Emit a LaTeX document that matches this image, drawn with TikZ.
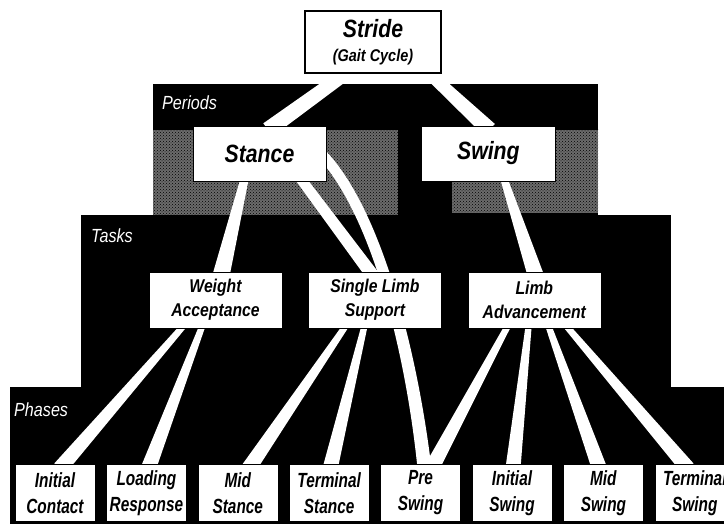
\documentclass[tikz,border=0pt]{standalone}
\usepackage{fontspec}
\newfontfamily\gaitfont[FakeStretch=0.85]{Liberation Sans}
\newfontfamily\phasefont[FakeStretch=0.75]{Liberation Sans}
\usepackage{tikz}
\usetikzlibrary{calc,positioning,patterns}
\pgfdeclarelayer{regions}
\pgfdeclarelayer{bands}
\pgfsetlayers{regions,bands,main}

% tapered white link: parent, x shift on its bottom, child, x shift on its top, half widths
\newcommand{\taper}[6]{%
  \path ($(#1.south)+(#2,-4)$) coordinate (t-a) ($(#3.north)+(#4,4)$) coordinate (t-b);
  \fill[band] ($(t-a)!#5!90:(t-b)$) -- ($(t-a)!#5!-90:(t-b)$) -- ($(t-b)!#6!90:(t-a)$) -- ($(t-b)!#6!-90:(t-a)$) -- cycle;}

\begin{document}
\begin{tikzpicture}[
  x=1pt, y=-1pt,
  box/.style={rectangle, draw=black, fill=white, align=center, inner sep=0pt},
  stridebox/.style={box, line width=1.4pt, minimum width=136pt, minimum height=62pt, font=\gaitfont\bfseries\itshape\fontsize{17}{24}\selectfont},
  periodbox/.style={box, minimum width=133pt, minimum height=55pt, font=\gaitfont\bfseries\itshape\fontsize{25}{28}\selectfont},
  taskbox/.style={box, minimum width=133pt, minimum height=56pt, font=\gaitfont\bfseries\itshape\fontsize{18.5}{24}\selectfont},
  phasebox/.style={box, minimum width=80pt, minimum height=57pt, font=\phasefont\bfseries\itshape\fontsize{20.5}{26}\selectfont},
  regionlabel/.style={text=white, inner sep=0pt, anchor=base west, font=\gaitfont\itshape\fontsize{19}{22}\selectfont},
  band/.style={fill=white},
  halftone/.style={fill=black!58},
  halfdots/.style={pattern=crosshatch dots, pattern color=black}
]
\useasboundingbox (0,0) rectangle (724,524);

% levels
\node[stridebox] (stride) at (373,42) {{\fontsize{25}{24}\selectfont Stride}\\(Gait Cycle)};
\node[periodbox] (stance) at (259.5,153.5) {Stance};
\node[periodbox, minimum width=134pt, right=95pt of stance] (swing) {Swing};
\node[taskbox] (wa) at (215.5,300) {Weight\\Acceptance};
\node[taskbox, right=26pt of wa] (sls) {Single Limb\\Support};
\node[taskbox, right=26pt of sls] (la) {Limb\\Advancement};
\node[phasebox] (ic) at (55,493) {Initial\\Contact};
\node[phasebox, right=11pt of ic] (lr) {Loading\\Response};
\node[phasebox, right=11pt of lr] (ms) {Mid\\Stance};
\node[phasebox, right=11pt of ms] (ts) {Terminal\\Stance};
\node[phasebox, right=11pt of ts] (ps) {Pre\\Swing};
\node[phasebox, right=11pt of ps] (is) {Initial\\Swing};
\node[phasebox, right=11pt of is] (msw) {Mid\\Swing};
\node[phasebox, right=11pt of msw] (tsw) {Terminal\\Swing};

\node[regionlabel] (periodslabel) at (162,110) {Periods};
\node[regionlabel] (taskslabel) at (91,243) {Tasks};
\node[regionlabel] (phaseslabel) at (14,416) {Phases};

\begin{pgfonlayer}{regions}
  \fill[white] (0,0) rectangle (724,524);
  \fill[black] (153,84) rectangle (598,216);
  \fill[halftone] (153,130) rectangle (398,215);
  \fill[halftone] (452,130) rectangle (598,213);
  \fill[halfdots] (153,130) rectangle (398,215);
  \fill[halfdots] (452,130) rectangle (598,213);
  \fill[black] (81,215) rectangle (671,390);
  \fill[black] (10,387) rectangle (724,524);
\end{pgfonlayer}

\begin{pgfonlayer}{bands}
  \taper{stride}{-22}{stance}{8.5}{6.5pt}{8pt}
  \taper{stride}{52}{swing}{1}{5.5pt}{8pt}
  \taper{stance}{-14.5}{wa}{5.5}{4pt}{8.5pt}
  \taper{stance}{40}{sls}{-2}{5pt}{6.5pt}
  \taper{swing}{15}{la}{1.5}{3.5pt}{8pt}
  \taper{wa}{-30.5}{ic}{5}{3pt}{7.5pt}
  \taper{wa}{-12.5}{lr}{2}{3pt}{7.5pt}
  \taper{sls}{-28}{ms}{11}{3pt}{7.5pt}
  \taper{sls}{-10}{ts}{1}{3pt}{7.5pt}
  \taper{la}{-25.5}{ps}{11}{3pt}{7.5pt}
  \taper{la}{-5.5}{is}{1}{3pt}{7.5pt}
  \taper{la}{13.5}{msw}{-4}{3pt}{7.5pt}
  \taper{la}{30.5}{tsw}{-7}{3pt}{7.5pt}
  % stance to pre swing, bent behind single limb support
  \fill[band] ($(stance.south east)+(-13,-29)$) .. controls +(60,60) and +(-11,-110) .. ($(ps.north)+(-3,5)$)
    -- ($(ps.north)+(11,5)$) .. controls +(-13,-110) and +(60,60) .. ($(stance.south east)+(-3,-33)$) -- cycle;
\end{pgfonlayer}
\end{tikzpicture}
\end{document}
